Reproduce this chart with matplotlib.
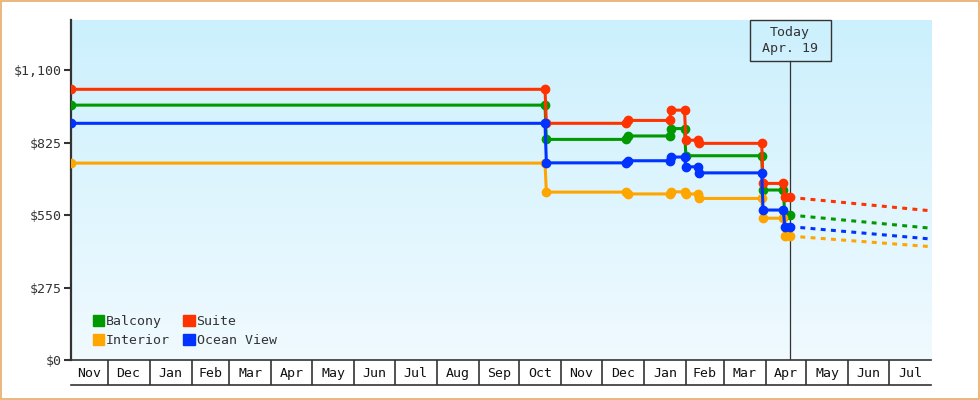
#!/usr/bin/env python3
"""Cabin price history with forecast, step chart."""

from datetime import datetime

import matplotlib
matplotlib.use("Agg")
import matplotlib.pyplot as plt
import matplotlib.dates as mdates
import matplotlib.transforms as mtransforms
import numpy as np
from matplotlib.colors import LinearSegmentedColormap
from matplotlib.patches import Patch, Rectangle

# ---- data ----
balcony_dates = ["2020-11-04", "2021-10-20", "2021-10-21", "2021-12-19", "2021-12-20",
                 "2022-01-20", "2022-01-21", "2022-01-31", "2022-02-01", "2022-03-29",
                 "2022-03-30", "2022-04-14", "2022-04-15", "2022-04-19"]
balcony_prices = [967, 967, 837, 837, 850, 850, 878, 878, 775, 775, 645, 645, 550, 550]

suite_dates = ["2020-11-04", "2021-10-20", "2021-10-21", "2021-12-19", "2021-12-20",
               "2022-01-20", "2022-01-21", "2022-01-31", "2022-02-01", "2022-02-10",
               "2022-02-11", "2022-03-29", "2022-03-30", "2022-04-14", "2022-04-15",
               "2022-04-19"]
suite_prices = [1027, 1027, 898, 898, 909, 909, 948, 948, 834, 834, 822, 822, 670, 670,
                617, 617]

ocean_dates = ["2020-11-04", "2021-10-20", "2021-10-21", "2021-12-19", "2021-12-20",
               "2022-01-20", "2022-01-21", "2022-01-31", "2022-02-01", "2022-02-10",
               "2022-02-11", "2022-03-29", "2022-03-30", "2022-04-14", "2022-04-15",
               "2022-04-19"]
ocean_prices = [898, 898, 748, 748, 756, 756, 770, 770, 733, 733, 710, 710, 569, 569,
                506, 506]

interior_dates = ["2020-11-04", "2021-10-20", "2021-10-21", "2021-12-19", "2021-12-20",
                  "2022-01-20", "2022-01-21", "2022-01-31", "2022-02-01", "2022-02-10",
                  "2022-02-11", "2022-03-29", "2022-03-30", "2022-04-14", "2022-04-15",
                  "2022-04-19"]
interior_prices = [747, 747, 637, 637, 630, 630, 638, 638, 630, 630, 613, 613, 538, 538,
                   470, 470]

forecast_dates = ["2022-04-19", "2022-08-01"]
balcony_forecast = [550, 500]
suite_forecast = [617, 566]
ocean_forecast = [506, 459]
interior_forecast = [470, 430]

today = "2022-04-19"
today_label = "Today\nApr. 19"
x_start, x_end = "2020-11-04", "2022-08-01"
month_starts = ["2020-12-01", "2021-01-01", "2021-02-01", "2021-03-01", "2021-04-01",
                "2021-05-01", "2021-06-01", "2021-07-01", "2021-08-01", "2021-09-01",
                "2021-10-01", "2021-11-01", "2021-12-01", "2022-01-01", "2022-02-01",
                "2022-03-01", "2022-04-01", "2022-05-01", "2022-06-01", "2022-07-01"]
month_labels = ["Nov", "Dec", "Jan", "Feb", "Mar", "Apr", "May", "Jun", "Jul", "Aug",
                "Sep", "Oct", "Nov", "Dec", "Jan", "Feb", "Mar", "Apr", "May", "Jun", "Jul"]
y_ticks = [0, 275, 550, 825, 1100]
y_tick_labels = ["$0", "$275", "$550", "$825", "$1,100"]

COLORS = {"Balcony": "#009900", "Suite": "#ff3300",
          "Interior": "#ffa500", "Ocean View": "#0033ff"}
DARK = "#333333"


def d(s):
    return mdates.date2num(datetime.strptime(s, "%Y-%m-%d"))


def main():
    plt.rcParams["font.family"] = ["DejaVu Sans Mono", "DejaVu Sans"]
    plt.rcParams["font.size"] = 9.5

    fig = plt.figure(figsize=(9.8, 4.0), dpi=100)
    fig.patches.append(Rectangle((0.001, 0.002), 0.998, 0.995, transform=fig.transFigure,
                                 fill=False, ec="#e8aa66", lw=1.2))

    ax = fig.add_axes([71 / 980, 40 / 400, 860 / 980, 340 / 400])
    x0, x1 = d(x_start), d(x_end)
    ax.set_xlim(x0, x1)
    ax.set_ylim(0, 1290)

    cmap = LinearSegmentedColormap.from_list("bg", ["#f0faff", "#ccf0fd"])
    ax.imshow(np.linspace(0, 1, 256).reshape(-1, 1), cmap=cmap, extent=[0, 1, 0, 1],
              transform=ax.transAxes, aspect="auto", origin="lower", zorder=0)

    series = [
        ("Balcony", balcony_dates, balcony_prices, balcony_forecast),
        ("Suite", suite_dates, suite_prices, suite_forecast),
        ("Interior", interior_dates, interior_prices, interior_forecast),
        ("Ocean View", ocean_dates, ocean_prices, ocean_forecast),
    ]
    fx = [d(s) for s in forecast_dates]
    for name, dates, prices, fc in series:
        c = COLORS[name]
        ax.plot([d(s) for s in dates], prices, color=c, lw=2.2, marker="o", ms=6,
                mec=c, mfc=c, zorder=3, solid_joinstyle="miter")
        ax.plot(fx, fc, color=c, lw=2.2, dashes=(1.6, 1.75), zorder=3)

    # today marker
    t = d(today)
    box_h = 41 / 340
    box_w = 81 / 860 * (x1 - x0)
    ax.axvline(t, ymin=0, ymax=1 - box_h, color=DARK, lw=0.9, zorder=2)
    trans = mtransforms.blended_transform_factory(ax.transData, ax.transAxes)
    ax.add_patch(Rectangle((t - box_w / 2, 1 - box_h), box_w, box_h, transform=trans,
                           fill=False, ec=DARK, lw=1.0, zorder=4, clip_on=False))
    ax.text(t, 1 - box_h / 2, today_label, transform=trans, ha="center", va="center",
            color=DARK, linespacing=1.25, zorder=5)

    ax.set_xticks([])
    ax.set_yticks(y_ticks)
    ax.set_yticklabels(y_tick_labels)
    ax.tick_params(axis="y", length=5, width=1.5, color=DARK, pad=2, labelcolor=DARK)
    for side in ("top", "right"):
        ax.spines[side].set_visible(False)
    ax.spines["left"].set_color(DARK)
    ax.spines["left"].set_linewidth(1.6)
    ax.spines["bottom"].set_color(DARK)
    ax.spines["bottom"].set_linewidth(1.2)

    handles = [Patch(color=COLORS[n], label=n) for n in ("Balcony", "Interior", "Suite", "Ocean View")]
    ax.legend(handles=handles, ncol=2, loc="lower left", bbox_to_anchor=(22 / 860, 13 / 340),
              frameon=False, borderaxespad=0, borderpad=0, handlelength=0.85,
              handleheight=0.85, handletextpad=0.15, columnspacing=1.0, labelspacing=0.45,
              labelcolor=DARK)

    # month band
    axm = fig.add_axes([71 / 980, 15 / 400, 860 / 980, 25 / 400])
    axm.set_xlim(x0, x1)
    axm.set_ylim(0, 1)
    axm.patch.set_alpha(0)
    for side in ("top", "right", "left"):
        axm.spines[side].set_visible(False)
    axm.spines["bottom"].set_color(DARK)
    axm.spines["bottom"].set_linewidth(1.2)
    axm.set_xticks([])
    axm.set_yticks([])
    edges = [x0] + [d(s) for s in month_starts] + [x1]
    for m in month_starts:
        axm.axvline(d(m), color=DARK, lw=1.2)
    for i, lab in enumerate(month_labels):
        axm.text((edges[i] + edges[i + 1]) / 2, 0.45, lab, ha="center", va="center",
                 color="#111111")

    fig.savefig("out.png", dpi=100)
    plt.close(fig)


if __name__ == "__main__":
    main()
